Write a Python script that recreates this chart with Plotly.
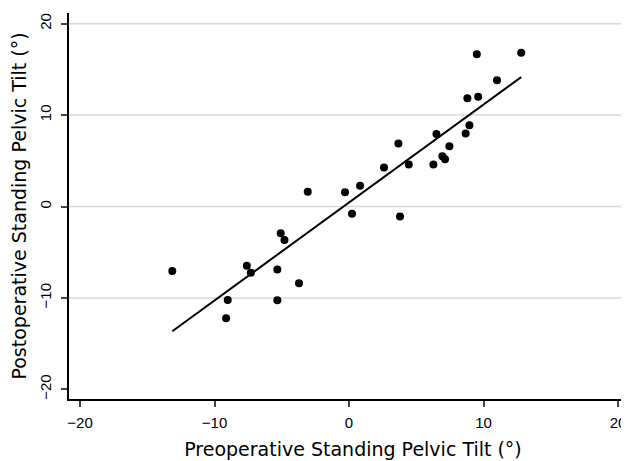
import numpy as np
import plotly.graph_objects as go

pre_tilt = [9.5, 12.8, 11.0, 8.8, 9.6, 8.95, 8.67, 6.5, 3.67, 7.46, 6.94, 7.14, 6.27,
            2.6, 4.44, 0.82, -0.3, 0.22, 3.79, -3.07,
            -5.08, -4.8, -7.6, -7.3, -13.14, -5.33, -3.72, -9.02, -5.33, -9.14]
post_tilt = [16.65, 16.83, 13.8, 11.84, 12.0, 8.9, 8.0, 7.93, 6.9, 6.58, 5.5, 5.16, 4.6,
             4.28, 4.6, 2.28, 1.55, -0.79, -1.1, 1.62,
             -2.93, -3.66, -6.47, -7.24, -7.06, -6.88, -8.4, -10.23, -10.27, -12.23]
tick_vals = [-20, -10, 0, 10, 20]
grid_vals = [-10, 0, 10, 20]

x = np.array(pre_tilt)
y = np.array(post_tilt)
slope, intercept = np.polyfit(x, y, 1)
fit_x = np.array([x.min(), x.max()])
fit_y = slope * fit_x + intercept

fig = go.Figure()
fig.add_trace(go.Scatter(x=pre_tilt, y=post_tilt, mode="markers",
                         marker=dict(color="black", size=8), showlegend=False))
fig.add_trace(go.Scatter(x=fit_x, y=fit_y, mode="lines",
                         line=dict(color="black", width=2), showlegend=False))

for g in grid_vals:
    fig.add_shape(type="line", xref="paper", x0=0, x1=1, yref="y", y0=g, y1=g,
                  line=dict(color="#d9d9d9", width=1.5), layer="below")

title_font = dict(family="DejaVu Sans", size=19, color="black")
tick_font = dict(family="Liberation Sans, Arial", size=15, color="black")

fig.update_layout(
    width=629, height=461,
    margin=dict(l=61, r=0, t=5, b=70),
    paper_bgcolor="white", plot_bgcolor="white",
    xaxis=dict(range=[-20.82, 21.41], tickvals=tick_vals, ticks="outside", ticklen=6,
               tickwidth=1.5, showline=True, linecolor="black", linewidth=1.5,
               showgrid=False, zeroline=False, tickfont=tick_font, automargin=False,
               ticklabelstandoff=3,
               title=dict(text="Preoperative Standing Pelvic Tilt (°)", font=title_font, standoff=13)),
    yaxis=dict(range=[-21.06, 21.17], tickvals=tick_vals, ticks="outside", ticklen=6,
               tickwidth=1.5, showline=True, linecolor="black", linewidth=1.5,
               showgrid=False, zeroline=False, tickfont=tick_font, tickangle=-90,
               automargin=False, ticklabelstandoff=4,
               title=dict(text="Postoperative Standing Pelvic Tilt (°)", font=title_font, standoff=8)),
)

fig.write_html("out.html")
